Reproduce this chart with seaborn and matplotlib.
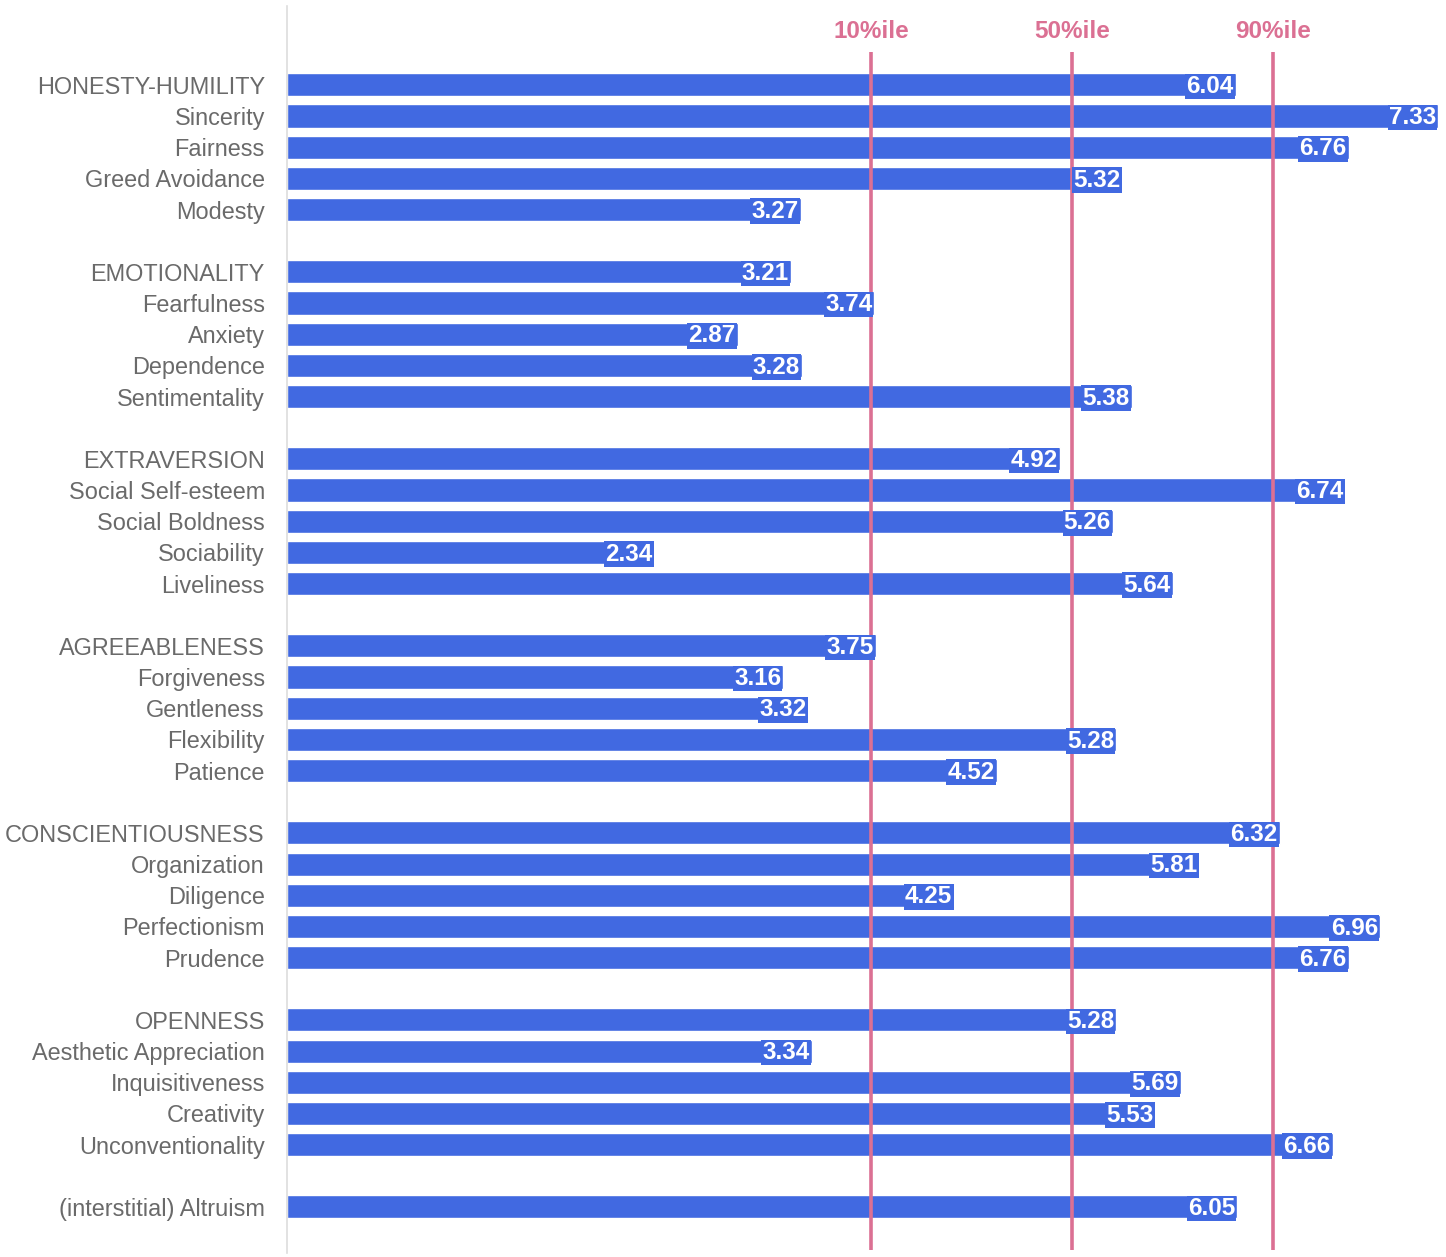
import matplotlib
matplotlib.use("Agg")
import matplotlib.pyplot as plt
import seaborn as sns
import pandas as pd
import numpy as np

# ---- data ----
traits = [
    "HONESTY-HUMILITY", "Sincerity", "Fairness", "Greed Avoidance", "Modesty",
    "EMOTIONALITY", "Fearfulness", "Anxiety", "Dependence", "Sentimentality",
    "EXTRAVERSION", "Social Self-esteem", "Social Boldness", "Sociability", "Liveliness",
    "AGREEABLENESS", "Forgiveness", "Gentleness", "Flexibility", "Patience",
    "CONSCIENTIOUSNESS", "Organization", "Diligence", "Perfectionism", "Prudence",
    "OPENNESS", "Aesthetic Appreciation", "Inquisitiveness", "Creativity", "Unconventionality",
    "(interstitial) Altruism",
]
scores = [
    6.04, 7.33, 6.76, 5.32, 3.27,
    3.21, 3.74, 2.87, 3.28, 5.38,
    4.92, 6.74, 5.26, 2.34, 5.64,
    3.75, 3.16, 3.32, 5.28, 4.52,
    6.32, 5.81, 4.25, 6.96, 6.76,
    5.28, 3.34, 5.69, 5.53, 6.66,
    6.05,
]
group_size = 5
percentile_labels = ["10%ile", "50%ile", "90%ile"]
percentile_values = [3.72, 5.00, 6.28]

# ---- styling ----
BLUE = "#4169E1"
PINK = "#DB7093"
GRAY = "#6a6a6a"

sns.set_theme(style="white")
plt.rcParams["font.family"] = ["Liberation Sans", "DejaVu Sans"]

pos = [i + i // group_size for i in range(len(traits))]
df = pd.DataFrame({"trait": traits, "score": scores, "pos": pos})

fig = plt.figure(figsize=(14.46, 12.57), dpi=100)
ax = fig.add_axes([287 / 1446, 4 / 1257, 1 - 287 / 1446, 1 - 10 / 1257])

sns.barplot(data=df, x="score", y="pos", orient="h", native_scale=True,
            color=BLUE, saturation=1, width=0.74, ax=ax, zorder=1)

ax.set_xlim(0, 7.38)
ax.set_ylim(37.48, -2.53)

# percentile lines
ax.vlines(percentile_values, ymin=-1.06, ymax=37.38, colors=PINK, lw=2.6, zorder=2)
for lab, v in zip(percentile_labels, percentile_values):
    ax.text(v, -1.72, lab, ha="center", va="center", color=PINK,
            fontsize=17.5, fontweight="bold", zorder=3)

# value labels
for v, p in zip(scores, pos):
    ax.annotate(f"{v:.2f}", xy=(v, p), xytext=(-1.5, -1.2), textcoords="offset points",
                ha="right", va="center", color="white", fontsize=17.5,
                fontweight="bold", zorder=4,
                bbox=dict(boxstyle="square,pad=0.05", fc=BLUE, ec="none"))

ax.set_yticks(pos)
ax.set_yticklabels(traits, fontsize=16.9, color=GRAY)
ax.tick_params(axis="y", length=0, pad=16)
ax.set_xticks([])
ax.set_xlabel("")
ax.set_ylabel("")
for s in ["top", "right", "bottom"]:
    ax.spines[s].set_visible(False)
ax.spines["left"].set_color("#dddddd")
ax.spines["left"].set_linewidth(1.2)
ax.spines["left"].set_zorder(5)

fig.savefig("out.png", dpi=100)
